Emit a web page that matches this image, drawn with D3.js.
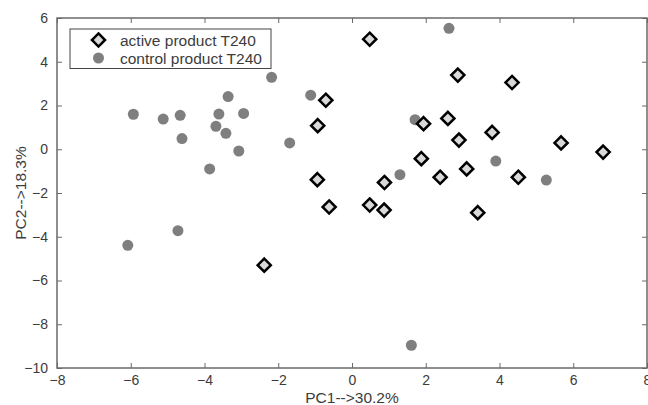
<!DOCTYPE html>
<html>
<head>
<meta charset="utf-8">
<script src="https://cdn.jsdelivr.net/npm/d3@7"></script>
<style>
  body { margin: 0; background: #fff; }
  svg text { font-family: "Liberation Sans", Arial, sans-serif; fill: #3c3c3c; }
</style>
</head>
<body>
<script>
// PCA scores
const activeX = [-0.71, -0.93, -0.94, 0.48, 2.87, 4.34, 2.60, 1.94, 2.90, 3.80, 5.67, 6.81, 1.88, 3.11, 2.39, 4.51, 0.88, -0.62, 0.48, 0.87, 3.41, -2.38];
const activeY = [2.24, 1.08, -1.39, 5.03, 3.39, 3.05, 1.41, 1.17, 0.42, 0.77, 0.29, -0.13, -0.43, -0.90, -1.28, -1.28, -1.52, -2.64, -2.55, -2.78, -2.90, -5.30];
const controlX = [-5.93, -5.12, -4.66, -4.61, -3.86, -3.69, -3.61, -3.42, -3.36, -3.07, -2.94, -2.18, -1.69, -1.12, 2.63, 1.71, 3.90, 1.30, 5.27, -6.08, -4.72, 1.61];
const controlY = [1.60, 1.38, 1.55, 0.49, -0.90, 1.05, 1.61, 0.73, 2.41, -0.08, 1.64, 3.29, 0.29, 2.47, 5.53, 1.35, -0.54, -1.16, -1.41, -4.39, -3.72, -8.96];
const xTicks = [-8, -6, -4, -2, 0, 2, 4, 6, 8];
const yTicks = [-10, -8, -6, -4, -2, 0, 2, 4, 6];
const seriesNames = ["active product T240", "control product T240"];

const w = 648;
const h = 405;
const margin = { top: 18, right: 1, bottom: 37, left: 57 };

const svg = d3.select("body").append("svg")
    .attr("width", w)
    .attr("height", h);

const x = d3.scaleLinear().domain([-8, 8]).range([margin.left, w - margin.right]);
const y = d3.scaleLinear().domain([-10, 6]).range([h - margin.bottom, margin.top]);

const axisColor = "#6a6a6a";

function styleAxis(g, showLabels) {
    g.select(".domain").remove();
    g.selectAll(".tick line").attr("stroke", axisColor).attr("stroke-width", 1);
    g.selectAll(".tick text").attr("font-size", 14);
    if (!showLabels) g.selectAll(".tick text").remove();
}

// bottom / left with labels, top / right ticks only (ticks point inwards)
svg.append("g")
    .attr("transform", `translate(0,${y(-10)})`)
    .call(d3.axisBottom(x).tickValues(xTicks).tickFormat(d3.format("d")).tickSizeInner(-5).tickPadding(7))
    .call(g => styleAxis(g, true));
svg.append("g")
    .attr("transform", `translate(0,${y(6)})`)
    .call(d3.axisTop(x).tickValues(xTicks).tickSizeInner(-5))
    .call(g => styleAxis(g, false));
svg.append("g")
    .attr("transform", `translate(${x(-8)},0)`)
    .call(d3.axisLeft(y).tickValues(yTicks).tickFormat(d3.format("d")).tickSizeInner(-5).tickPadding(9))
    .call(g => styleAxis(g, true));
svg.append("g")
    .attr("transform", `translate(${x(8)},0)`)
    .call(d3.axisRight(y).tickValues(yTicks).tickSizeInner(-5))
    .call(g => styleAxis(g, false));

// frame
svg.append("rect")
    .attr("x", x(-8))
    .attr("y", y(6))
    .attr("width", x(8) - x(-8))
    .attr("height", y(-10) - y(6))
    .attr("fill", "none")
    .attr("stroke", axisColor)
    .attr("stroke-width", 1.5);

const diamond = d3.symbol().type(d3.symbolDiamond2).size(110);

// control product: grey dots
svg.append("g")
    .selectAll("circle")
    .data(d3.zip(controlX, controlY))
    .join("circle")
    .attr("cx", d => x(d[0]))
    .attr("cy", d => y(d[1]))
    .attr("r", 5.5)
    .attr("fill", "#7f7f7f");

// active product: light diamonds with black outline
svg.append("g")
    .selectAll("path")
    .data(d3.zip(activeX, activeY))
    .join("path")
    .attr("d", diamond)
    .attr("transform", d => `translate(${x(d[0])},${y(d[1])})`)
    .attr("fill", "#d9d9d9")
    .attr("stroke", "#000")
    .attr("stroke-width", 2.5);

// axis titles
svg.append("text")
    .attr("x", (x(-8) + x(8)) / 2)
    .attr("y", 403)
    .attr("text-anchor", "middle")
    .attr("font-size", 15.5)
    .text("PC1-->30.2%");

svg.append("text")
    .attr("transform", `translate(26,${(y(-10) + y(6)) / 2}) rotate(-90)`)
    .attr("text-anchor", "middle")
    .attr("font-size", 15.5)
    .text("PC2-->18.3%");

// legend
const legend = svg.append("g");
legend.append("rect")
    .attr("x", 70)
    .attr("y", 29)
    .attr("width", 201)
    .attr("height", 39.5)
    .attr("fill", "#fff")
    .attr("stroke", "#444")
    .attr("stroke-width", 1);

legend.append("path")
    .attr("d", diamond)
    .attr("transform", "translate(98.5,40)")
    .attr("fill", "#d9d9d9")
    .attr("stroke", "#000")
    .attr("stroke-width", 2.5);
legend.append("circle")
    .attr("cx", 98.5)
    .attr("cy", 58)
    .attr("r", 5.5)
    .attr("fill", "#7f7f7f");

legend.selectAll("text")
    .data(seriesNames)
    .join("text")
    .attr("x", 120)
    .attr("y", (d, i) => 45.5 + i * 18)
    .attr("font-size", 15.5)
    .text(d => d);
</script>
</body>
</html>
